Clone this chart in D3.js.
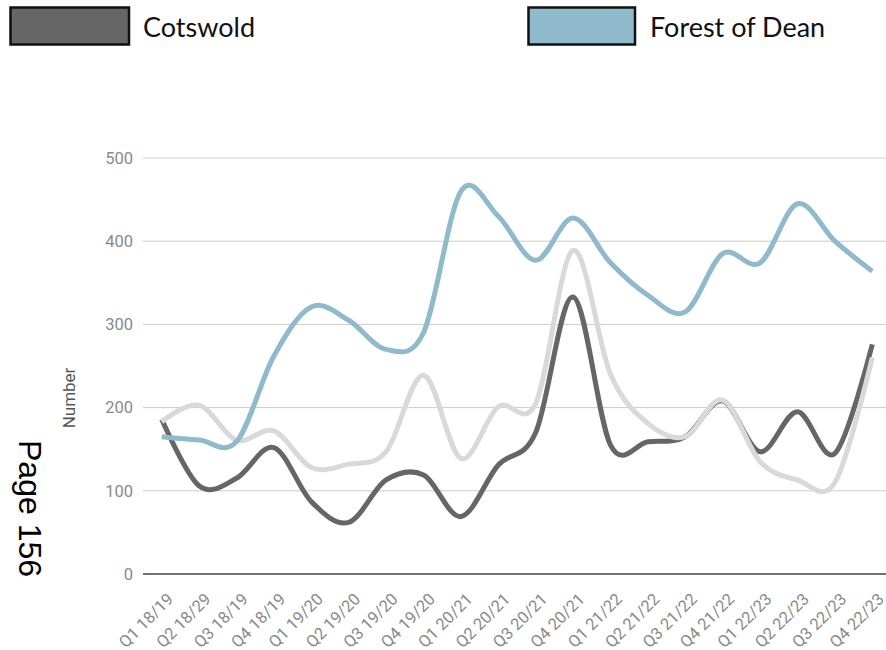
<!DOCTYPE html>
<html>
<head>
<meta charset="utf-8">
<script src="https://cdn.jsdelivr.net/npm/d3@7"></script>
<style>
  html, body { margin: 0; padding: 0; background: #fff; }
  svg { display: block; }
</style>
</head>
<body>
<svg id="chart" width="886" height="650"></svg>
<script>
const categories = ["Q1 18/19","Q2 18/29","Q3 18/19","Q4 18/19","Q1 19/20","Q2 19/20","Q3 19/20","Q4 19/20","Q1 20/21","Q2 20/21","Q3 20/21","Q4 20/21","Q1 21/22","Q2 21/22","Q3 21/22","Q4 21/22","Q1 22/23","Q2 22/23","Q3 22/23","Q4 22/23"];
const cotswold = [186,106,115,152,87,62,113,119,69,131,170,333,155,159,165,208,147,195,145,276];
const forestOfDean = [165,161,159,262,321,305,270,290,460,430,377,428,374,335,315,385,374,445,400,364];
const thirdSeries = [183,203,161,172,128,132,147,239,139,201,205,389,240,181,165,209,135,113,110,260];
const yTicks = [0,100,200,300,400,500];
const legendNames = ["Cotswold","Forest of Dean"];

const svg = d3.select("#chart");
const x = d3.scalePoint().domain(categories).range([143, 891]).padding(0.5);
const y = d3.scaleLinear().domain([0, 500]).range([574, 158]);

// gridlines
svg.append("g").selectAll("line").data(yTicks.filter(d => d !== 0)).join("line")
  .attr("x1", 143).attr("x2", 891)
  .attr("y1", d => y(d)).attr("y2", d => y(d))
  .attr("stroke", "#cccccc").attr("stroke-width", 1);

// y axis labels
const yAxis = d3.axisLeft(y).tickValues(yTicks).tickSize(0).tickPadding(10);
const gy = svg.append("g").attr("transform", "translate(143,0)").call(yAxis);
gy.select(".domain").remove();
gy.selectAll("text").attr("font-family", "Roboto, sans-serif").attr("font-size", 16.5).attr("fill", "#8a8a8a");

// x axis labels
const xAxis = d3.axisBottom(x).tickSize(0).tickPadding(0);
const gx = svg.append("g").attr("transform", "translate(0,574)").call(xAxis);
gx.select(".domain").remove();
gx.selectAll("text")
  .attr("font-family", "Roboto, sans-serif").attr("font-size", 16.5).attr("fill", "#8a8a8a")
  .attr("text-anchor", "end")
  .attr("transform", "translate(4,18) rotate(-45)")
  .attr("dy", "0.7em").attr("y", 0);

// zero baseline
svg.append("line").attr("x1", 143).attr("x2", 891).attr("y1", y(0)).attr("y2", y(0))
  .attr("stroke", "#444").attr("stroke-width", 1.6);

// y title
svg.append("text").attr("transform", "translate(75,398) rotate(-90)")
  .attr("text-anchor", "middle").attr("font-family", "Roboto, sans-serif")
  .attr("font-size", 17).attr("fill", "#555").text("Number");

// lines
const line = d3.line().x((d, i) => x(categories[i])).y(d => y(d)).curve(d3.curveCatmullRom.alpha(0));
const series = [
  {vals: cotswold, color: "#666666"},
  {vals: thirdSeries, color: "#d9d9d9"},
  {vals: forestOfDean, color: "#8fbacc"}
];
svg.append("g").selectAll("path").data(series).join("path")
  .attr("d", d => line(d.vals))
  .attr("fill", "none").attr("stroke", d => d.color).attr("stroke-width", 5)
  .attr("stroke-linejoin", "round");

// legend
const legend = [
  {name: legendNames[0], color: "#666666", bx: 10.5, bw: 118.5, tx: 143},
  {name: legendNames[1], color: "#8fbacc", bx: 528.5, bw: 106.5, tx: 650}
];
const lg = svg.append("g").selectAll("g").data(legend).join("g");
lg.append("rect").attr("x", d => d.bx).attr("y", 7.5).attr("width", d => d.bw).attr("height", 37)
  .attr("fill", d => d.color).attr("stroke", "#111").attr("stroke-width", 2.5);
lg.append("text").attr("x", d => d.tx).attr("y", 37)
  .attr("font-family", "Lato, sans-serif").attr("font-size", 27).attr("fill", "#111")
  .text(d => d.name);

// page label
svg.append("text").attr("transform", "translate(19,440) rotate(90)")
  .attr("font-family", "'Liberation Sans', Arial, sans-serif").attr("font-size", 32).attr("fill", "#000")
  .text("Page 156");
</script>
</body>
</html>
